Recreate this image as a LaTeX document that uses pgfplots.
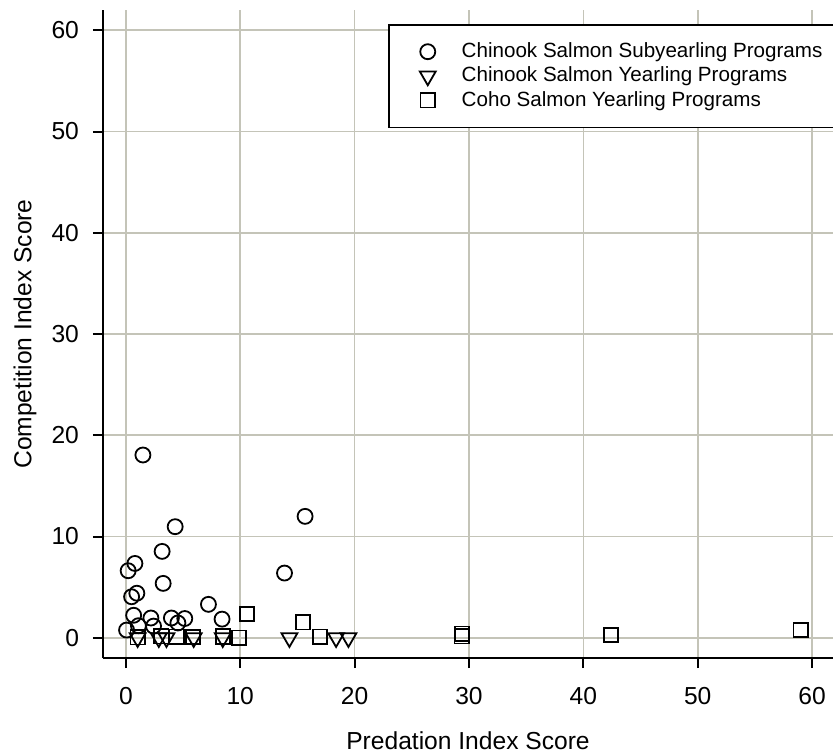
\documentclass[border=0pt]{standalone}
\usepackage{fontspec}
\setmainfont{Liberation Sans}
\usepackage{pgfplots}
\pgfplotsset{compat=1.18}
\definecolor{gridc}{RGB}{196,196,184}
\begin{document}
\begin{tikzpicture}
\useasboundingbox (-51.5pt,-48.5pt) rectangle (365pt,329pt);
\begin{axis}[
  at={(0pt,0pt)}, anchor=south west,
  scale only axis, width=365pt, height=324pt,
  xmin=-2, xmax=61.83, ymin=-2, ymax=62,
  axis x line=bottom, axis y line=left,
  axis line style={-, line width=1pt, black},
  xtick={0,10,...,60}, ytick={0,10,...,60},
  tick align=outside, major tick length=5pt,
  tick style={line width=1pt, black},
  grid=major, major grid style={color=gridc, line width=0.8pt},
  /pgf/number format/assume math mode=true,
  tick label style={font=\fontsize{12.3}{14}\selectfont},
  label style={font=\fontsize{12.3}{14}\selectfont},
  xticklabel style={anchor=north, yshift=-6pt},
  yticklabel style={anchor=east, xshift=-3.5pt},
  xlabel={Predation Index Score},
  ylabel={Competition Index Score},
  xlabel style={at={(axis description cs:0.5,0)}, anchor=center, yshift=-41.5pt},
  ylabel style={at={(axis description cs:-0.1068,0.5)}, anchor=center},
  legend style={at={(rel axis cs:0.3904,0.9785)}, anchor=north west,
    draw=black, line width=0.8pt, font=\fontsize{10.3}{12.3}\selectfont,
    legend cell align=left, inner xsep=15.5pt, inner ysep=7pt,
    row sep=-0.8pt,
    /tikz/every odd column/.append style={column sep=11pt}},
  clip=false,
]
\addplot[only marks, mark=o, mark size=3.75pt, mark options={draw=black, line width=0.9pt}]
coordinates {
(1.49,18.05) (4.31,10.97) (15.67,11.99) (3.17,8.53) (0.79,7.34) (0.20,6.62)
(13.87,6.39) (3.26,5.37) (0.96,4.40) (0.50,4.05) (7.22,3.30) (0.68,2.22)
(2.19,1.95) (3.98,1.95) (5.15,1.90) (8.41,1.84) (4.55,1.46) (0.06,0.76)
(1.10,1.19) (2.42,1.15)
};
\addlegendentry{Chinook Salmon Subyearling Programs}
\addplot[only marks, mark=triangle, mark size=4.6pt, mark options={draw=black, line width=0.9pt, rotate=180}]
coordinates {
(1.03,0) (2.88,0) (3.55,0) (5.93,0) (8.47,0) (14.30,0) (18.38,0) (19.46,0)
};
\addlegendentry{Chinook Salmon Yearling Programs}
\addplot[only marks, mark=square, mark size=3.6pt, mark options={draw=black, line width=0.9pt}]
coordinates {
(1.03,0.05) (3.10,0.15) (4.43,0.10) (5.88,0.08) (8.48,0.12) (9.88,0.0)
(10.58,2.34) (15.50,1.52) (16.98,0.10) (29.37,0.15) (29.40,0.40)
(42.40,0.27) (59.00,0.76)
};
\addlegendentry{Coho Salmon Yearling Programs}
\end{axis}
\end{tikzpicture}
\end{document}
